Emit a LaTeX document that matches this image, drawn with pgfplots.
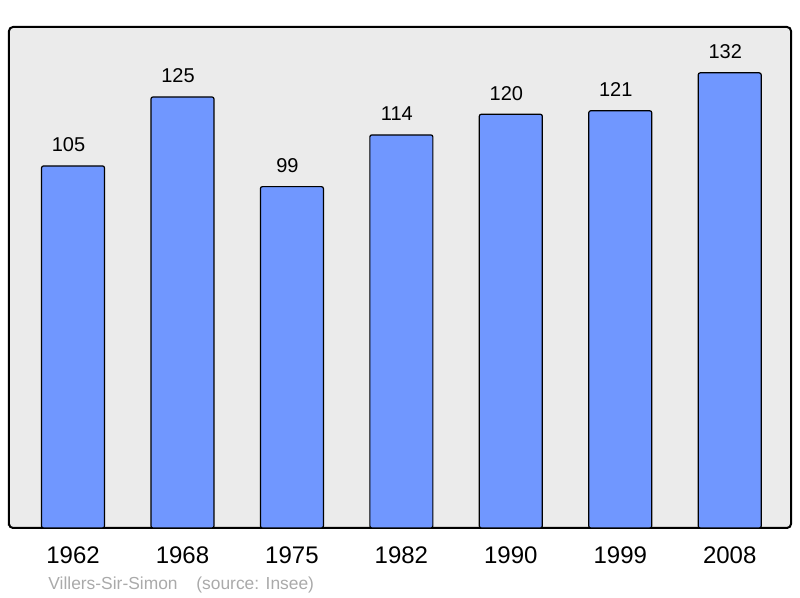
\documentclass[border=0pt]{standalone}
\usepackage{pgfplots}
\pgfplotsset{compat=1.18}
\usepackage{fontspec}
\setmainfont{Liberation Sans}
\definecolor{barblue}{HTML}{7097FF}
\definecolor{bggray}{HTML}{EBEBEB}
\definecolor{footgray}{HTML}{AAAAAA}

\begin{document}
\begin{tikzpicture}
\path[use as bounding box] (-4.5pt,-35pt) rectangle (395.5pt,264pt);
\begin{axis}[
  at={(0,0)}, anchor=south west,
  scale only axis,
  width=391pt, height=250.5pt,
  xmin=-0.585, xmax=6.56,
  ymin=0, ymax=145.3,
  axis background/.style={fill=bggray},
  axis line style={line width=1pt, rounded corners=2pt},
  ybar, bar width=31.5pt,
  xtick=data,
  xticklabels={1962,1968,1975,1982,1990,1999,2008},
  xtick style={draw=none},
  ytick=\empty,
  xticklabel style={font=\fontsize{12pt}{14pt}\selectfont, anchor=base, yshift=-13.5pt},
  /pgf/number format/assume math mode=true,
  nodes near coords,
  every node near coord/.append style={font=\fontsize{10pt}{12pt}\selectfont, anchor=base, yshift=7pt, xshift=-2.25pt, inner sep=0pt},
  clip=false,
]
\addplot[fill=barblue, draw=black, line width=0.6pt, rounded corners=1pt] coordinates {
  (0,105) (1,125) (2,99) (3,114) (4,120) (5,121) (6,132)};
\end{axis}
\node[anchor=base west, inner sep=0pt, text=footgray, font=\fontsize{8.7pt}{10pt}\selectfont] at (19.5pt,-31pt) {Villers-Sir-Simon};
\node[anchor=base west, inner sep=0pt, text=footgray, font=\fontsize{8.7pt}{10pt}\selectfont] at (93.5pt,-31pt) {(source: Insee)};
\end{tikzpicture}
\end{document}
